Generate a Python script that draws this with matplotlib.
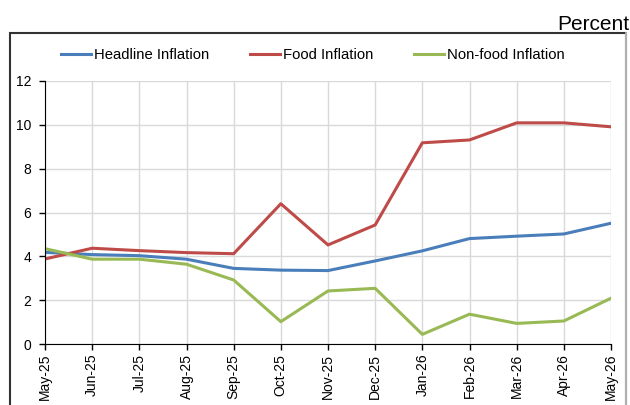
import matplotlib
matplotlib.use("Agg")
import matplotlib.pyplot as plt
from matplotlib.patches import Rectangle
from matplotlib.lines import Line2D

months = ["May-25", "Jun-25", "Jul-25", "Aug-25", "Sep-25", "Oct-25", "Nov-25",
          "Dec-25", "Jan-26", "Feb-26", "Mar-26", "Apr-26", "May-26"]
headline = [4.18, 4.08, 4.03, 3.87, 3.45, 3.37, 3.35, 3.79, 4.25, 4.81, 4.92, 5.02, 5.51]
food = [3.88, 4.37, 4.26, 4.17, 4.12, 6.40, 4.52, 5.43, 9.18, 9.31, 10.09, 10.09, 9.91]
nonfood = [4.35, 3.87, 3.87, 3.64, 2.92, 1.02, 2.42, 2.54, 0.44, 1.36, 0.94, 1.05, 2.09]
series_names = ["Headline Inflation", "Food Inflation", "Non-food Inflation"]
colors = ["#4A7EBB", "#BE4B48", "#98B954"]

plt.rcParams['font.family'] = ['Liberation Sans', 'DejaVu Sans']

fig = plt.figure(figsize=(6.3, 4.05), dpi=100)
ax = fig.add_axes([45/630, 61/405, 566/630, 263/405])

x = list(range(len(months)))
for vals, name, c in zip([headline, food, nonfood], series_names, colors):
    ax.plot(x, vals, color=c, lw=2.2, label=name, solid_joinstyle='round')

ax.set_xlim(0, len(months) - 1)
ax.set_ylim(0, 12)
ax.set_yticks(range(0, 13, 2))
ax.set_xticks(x)
ax.set_xticklabels(months, rotation=90, fontsize=10)
ax.tick_params(axis='y', labelsize=10, length=4, width=1, direction='out', pad=6)
ax.tick_params(axis='x', length=4, width=1, direction='out', pad=3)
ax.grid(True, color="#D9D9D9", lw=1)
ax.set_axisbelow(True)
for s in ['top', 'right']:
    ax.spines[s].set_visible(False)
ax.spines['left'].set_color('black')
ax.spines['bottom'].set_color('black')

# outer frame
fig.patches.append(Rectangle((10/630, -0.05), 616/630, 1.05 - 33/405,
                             transform=fig.transFigure, fill=False,
                             edgecolor="#333333", lw=1.5, zorder=0))
# lighter right edge
fig.add_artist(Line2D([626/630, 626/630], [0, 1 - 33/405], transform=fig.transFigure,
                      color="#C8C8C8", lw=1.2))

fig.text(629/630, 1 - 30/405, "Percent", ha='right', va='baseline', fontsize=15)

leg = fig.legend(loc='center', bbox_to_anchor=(313/630, 1 - 55/405), ncol=3,
                 frameon=False, fontsize=10.7, handlelength=2.0, handletextpad=0.2,
                 columnspacing=2.75)

fig.savefig("out.png", dpi=100)
